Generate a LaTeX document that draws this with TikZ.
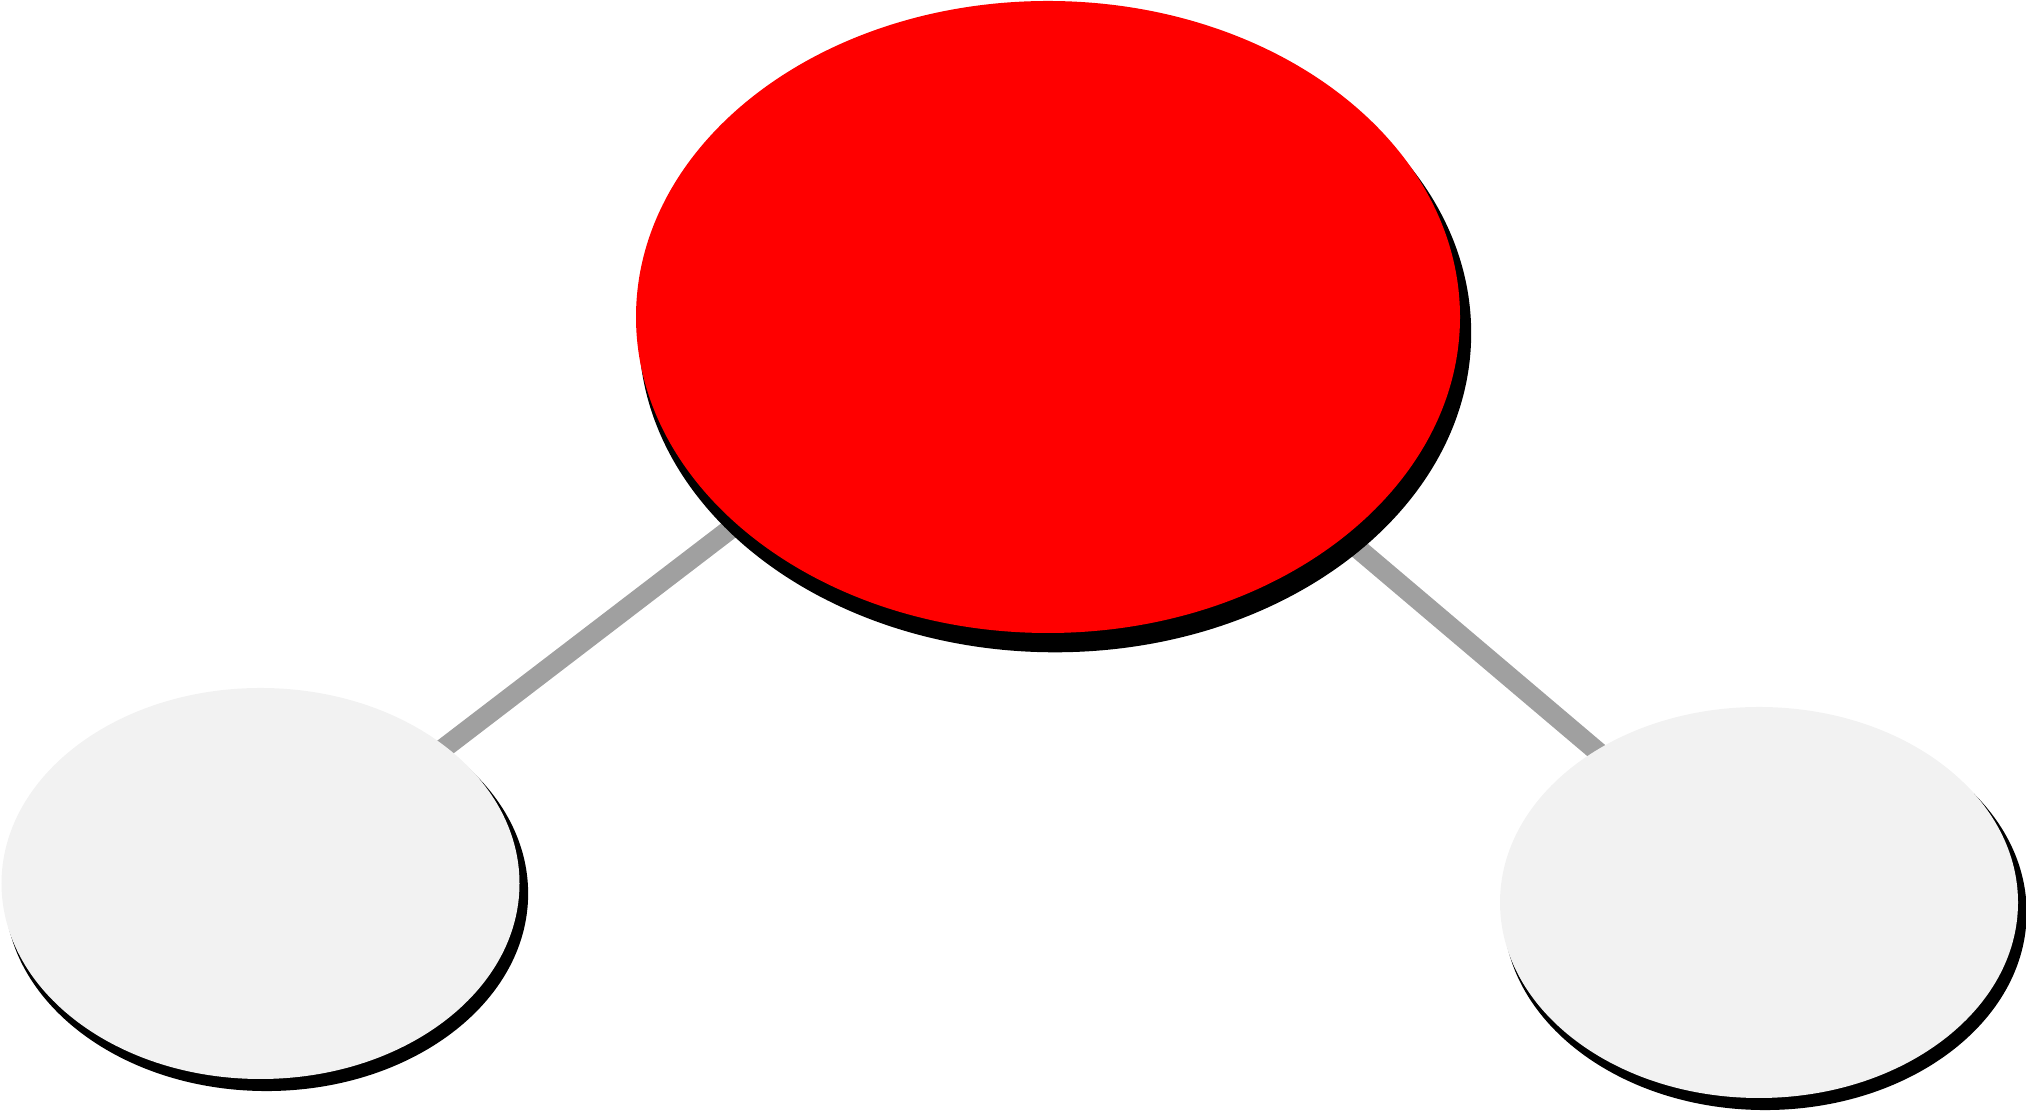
\documentclass[tikz,border=0pt]{standalone}
\usetikzlibrary{shapes.geometric, shadows, backgrounds}

\definecolor{oxred}{HTML}{FF0000}
\definecolor{hydgray}{HTML}{F2F2F2}
\definecolor{bondgray}{HTML}{A0A0A0}

\begin{document}
\begin{tikzpicture}[
    atom/.style={ellipse, inner sep=0pt, draw=none},
    bond/.style={bondgray, line width=2mm}
]
        \useasboundingbox (0,0) rectangle (20.26,11.12);

        \node[atom, fill=oxred, minimum width=8.24cm, minimum height=6.32cm,
            drop shadow={shadow xshift=0.07cm, shadow yshift=-0.16cm, shadow scale=1.01, fill=black, opacity=1}]
            (O) at (10.48,7.95) {};
        \node[atom, fill=hydgray, minimum width=5.18cm, minimum height=3.91cm,
            drop shadow={shadow xshift=0.06cm, shadow yshift=-0.1cm, shadow scale=1.01, fill=black, opacity=1}]
            (H1) at (2.605,2.285) {};
        \node[atom, fill=hydgray, minimum width=5.18cm, minimum height=3.91cm,
            drop shadow={shadow xshift=0.06cm, shadow yshift=-0.1cm, shadow scale=1.01, fill=black, opacity=1}]
            (H2) at (17.59,2.095) {};

        \begin{scope}[on background layer]
        \draw[bond] ([yshift=3.1mm]O.center) -- ([yshift=-0.5mm]H1.center);
        \draw[bond] ([yshift=3.1mm]O.center) -- ([yshift=1.4mm]H2.center);
        \end{scope}
\end{tikzpicture}
\end{document}
